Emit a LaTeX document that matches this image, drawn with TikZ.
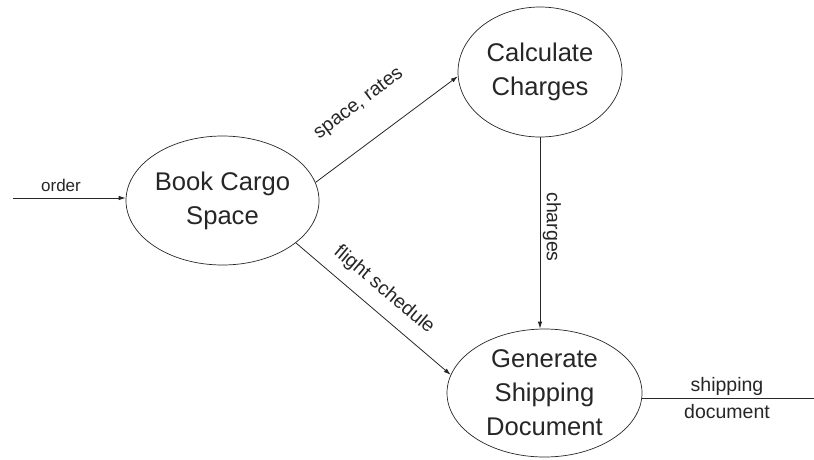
\documentclass[tikz,border=0pt]{standalone}
\usepackage{fontspec}
\setmainfont{Liberation Sans}
\usetikzlibrary{shapes.geometric,arrows.meta}
\begin{document}
\begin{tikzpicture}[x=1pt,y=-1pt,
  proc/.style={draw=black!85,line width=0.7pt,ellipse,inner sep=0pt,align=center,
    text=black!85,font=\fontsize{25.6}{34}\selectfont},
  flow/.style={draw=black!85,line width=0.8pt,-{Latex[length=7pt,width=4.5pt]}},
  plain/.style={draw=black!85,line width=0.8pt},
  lbl/.style={text=black!85,font=\fontsize{19.5}{24}\selectfont,inner sep=0pt},
  small/.style={text=black!85,font=\fontsize{17}{20}\selectfont,inner sep=0pt}]
\useasboundingbox (0,0) rectangle (814,459);
\node[proc,minimum width=193pt,minimum height=129pt] (book) at (222.5,200.5) {Book Cargo\\Space};
\node[proc,minimum width=164pt,minimum height=130pt] (calc) at (540,72) {Calculate\\Charges};
\node[proc,minimum width=195pt,minimum height=128pt] (gen) at (544.5,393) {Generate\\Shipping\\Document};
\coordinate (in) at (13,198);
\coordinate (out) at (814,398);
\draw[flow] (in) -- (in -| book.west);
\draw[flow] (book.11) -- (calc.183);
\draw[flow] (book.-30) -- (gen.169);
\draw[flow] (calc.south) -- (calc.south |- gen.north);
\draw[plain] (out -| gen.east) -- (out);
\node[small] (lorder) at (61,185) {order};
\node[lbl,rotate=37] (lspace) at (359,104) {space, rates};
\node[lbl,rotate=-40] (lflight) at (384,290) {flight schedule};
\node[lbl,rotate=-90] (lcharges) at (552,227) {charges};
\node[lbl] (lship) at (727,386) {shipping};
\node[lbl] (ldoc) at (727,412) {document};
\end{tikzpicture}
\end{document}
